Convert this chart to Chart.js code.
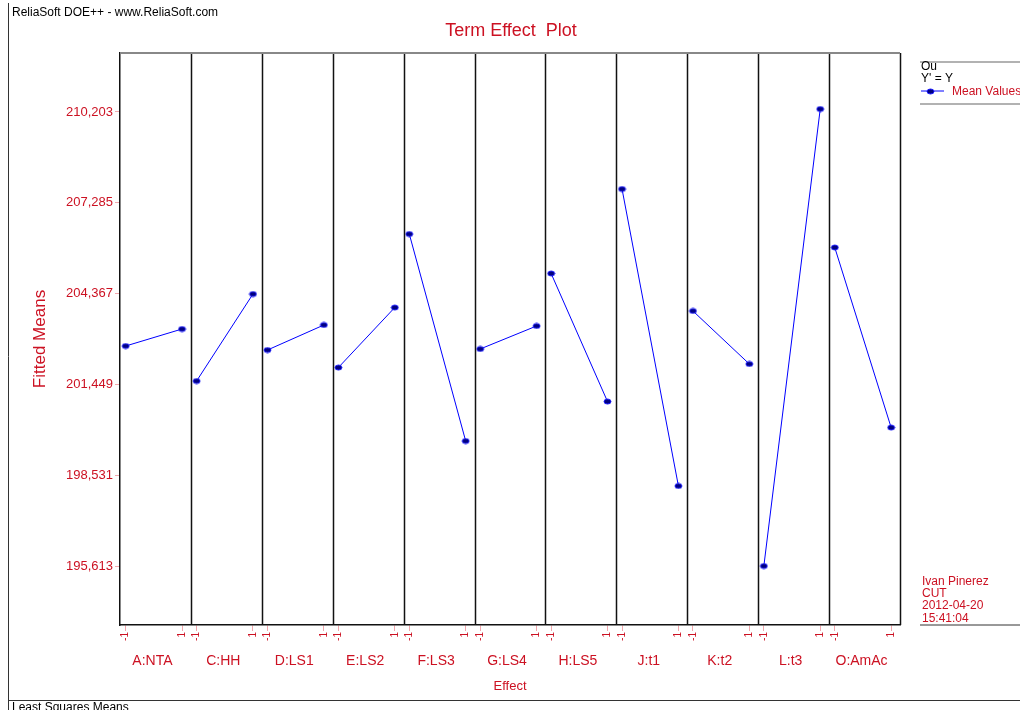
<!DOCTYPE html>
<html>
<head>
<meta charset="utf-8">
<title>Term Effect Plot</title>
<script src="https://cdn.jsdelivr.net/npm/chart.js@4.4.1/dist/chart.umd.min.js"></script>
<style>
  html, body { margin: 0; padding: 0; background: #ffffff; }
  #wrap { position: relative; width: 1020px; height: 710px; overflow: hidden; }
  canvas { display: block; }
</style>
</head>
<body>
<div id="wrap"><canvas id="chart" width="1020" height="710"></canvas></div>
<script>
// Effect terms shown left to right, one panel each
const categories = ['A:NTA', 'C:HH', 'D:LS1', 'E:LS2', 'F:LS3', 'G:LS4', 'H:LS5', 'J:t1', 'K:t2', 'L:t3', 'O:AmAc'];
// Factor levels inside each panel
const levelLabels = ['-1', '1'];
// Least squares means at level -1
const lowMeans = [202.683, 201.558, 202.554, 201.992, 206.282, 202.587, 205.013, 207.728, 203.808, 195.613, 205.849];
// Least squares means at level 1
const highMeans = [203.229, 204.354, 203.358, 203.920, 199.630, 203.326, 200.899, 198.184, 202.105, 210.299, 200.063];
// Value axis ticks and range
const yTickValues = [195.613, 198.531, 201.449, 204.367, 207.285, 210.203];
const yMin = 193.717;
const yMax = 212.099;

// Where each level sits within its panel (panel i spans [i, i+1])
const LOW_POS = 0.08;
const HIGH_POS = 0.875;

const RED = '#cc1122';
const PINK = '#f2a8ae';
const FONT = "'Liberation Sans', Arial, sans-serif";

Chart.defaults.font.family = FONT;

// Small navy ellipse used as the marker
function makeMarker(w, h) {
  const c = document.createElement('canvas');
  c.width = w + 2; c.height = h + 2;
  const g = c.getContext('2d');
  g.beginPath();
  g.ellipse((w + 2) / 2, (h + 2) / 2, w / 2, h / 2, 0, 0, Math.PI * 2);
  g.fillStyle = '#000080';
  g.fill();
  g.lineWidth = 1;
  g.strokeStyle = '#1a1aff';
  g.stroke();
  return c;
}
const marker = makeMarker(7, 5);

const tickPositions = [];
categories.forEach((_, i) => { tickPositions.push(i + LOW_POS, i + HIGH_POS); });

const datasets = categories.map((name, i) => ({
  label: name,
  data: [
    { x: i + LOW_POS, y: lowMeans[i] },
    { x: i + HIGH_POS, y: highMeans[i] }
  ],
  showLine: true,
  borderColor: '#0000ff',
  borderWidth: 1,
  pointStyle: marker,
  pointRadius: 4,
  pointHoverRadius: 4
}));

function text(ctx, str, x, y, opts) {
  ctx.save();
  ctx.font = (opts.size || 12) + 'px ' + FONT;
  ctx.fillStyle = opts.color || '#000';
  ctx.textAlign = opts.align || 'left';
  ctx.textBaseline = opts.baseline || 'middle';
  if (opts.rotate) {
    ctx.translate(x, y);
    ctx.rotate(opts.rotate);
    ctx.fillText(str, 0, 0);
  } else {
    ctx.fillText(str, x, y);
  }
  ctx.restore();
}

function line(ctx, x1, y1, x2, y2, color, width) {
  ctx.save();
  ctx.beginPath();
  ctx.moveTo(x1, y1);
  ctx.lineTo(x2, y2);
  ctx.strokeStyle = color;
  ctx.lineWidth = width;
  ctx.stroke();
  ctx.restore();
}

const decorations = {
  id: 'decorations',
  beforeDraw(chart) {
    const ctx = chart.ctx;
    ctx.save();
    ctx.fillStyle = '#ffffff';
    ctx.fillRect(0, 0, chart.width, chart.height);
    ctx.restore();
  },
  afterDraw(chart) {
    const ctx = chart.ctx;
    const area = chart.chartArea;
    const xs = chart.scales.x;

    // Panel separators and right border
    for (let i = 1; i <= categories.length; i++) {
      const px = Math.round(xs.getPixelForValue(i)) + 0.5;
      line(ctx, px, area.top, px, area.bottom, '#111', 1.5);
    }
    // Top border of the plot
    line(ctx, area.left, area.top, area.right, area.top, '#888', 2);

    // Term names under each panel
    categories.forEach((name, i) => {
      const cx = xs.getPixelForValue(i + 0.5);
      text(ctx, name, cx - 3, 661, { size: 14, color: RED, align: 'center' });
    });

    // Axis titles
    text(ctx, 'Effect', (area.left + area.right) / 2, 686, { size: 13, color: RED, align: 'center' });
    text(ctx, 'Fitted Means', 40, (area.top + area.bottom) / 2, { size: 17, color: RED, align: 'center', rotate: -Math.PI / 2 });

    // Chart title
    text(ctx, 'Term Effect  Plot', 511, 31, { size: 18, color: RED, align: 'center' });

    // Outer frame and header/footer
    line(ctx, 8.5, 3, 8.5, 710, '#333', 1);
    line(ctx, 8, 700.5, 1020, 700.5, '#333', 1);
    text(ctx, 'ReliaSoft DOE++ - www.ReliaSoft.com', 12, 13, { size: 12, color: '#000' });
    text(ctx, 'Least Squares Means', 12, 708, { size: 12, color: '#000' });

    // Legend block
    line(ctx, 920, 62, 1020, 62, '#999', 1.5);
    text(ctx, 'Ou', 921, 67, { size: 12, color: '#000' });
    text(ctx, "Y' = Y", 921, 79, { size: 12, color: '#000' });
    line(ctx, 921, 91, 944, 91, '#0000ff', 1);
    ctx.drawImage(marker, 926, 88);
    text(ctx, 'Mean Values', 952, 92, { size: 12, color: RED });
    line(ctx, 920, 104, 1020, 104, '#999', 1.5);

    // Author block
    text(ctx, 'Ivan Pinerez', 922, 582, { size: 12, color: RED });
    text(ctx, 'CUT', 922, 594, { size: 12, color: RED });
    text(ctx, '2012-04-20', 922, 606, { size: 12, color: RED });
    text(ctx, '15:41:04', 922, 619, { size: 12, color: RED });
    line(ctx, 920, 625, 1020, 625, '#333', 1);
  }
};

new Chart(document.getElementById('chart'), {
  type: 'scatter',
  data: { datasets },
  options: {
    responsive: false,
    animation: false,
    devicePixelRatio: 1,
    layout: { padding: { left: 0, top: 53, right: 120, bottom: 63 } },
    plugins: {
      legend: { display: false },
      title: { display: false },
      tooltip: { enabled: false }
    },
    scales: {
      x: {
        type: 'linear',
        min: 0,
        max: categories.length,
        afterBuildTicks(scale) {
          scale.ticks = tickPositions.map(v => ({ value: v }));
        },
        afterFit(scale) { scale.height = 22; },
        ticks: {
          autoSkip: false,
          minRotation: 90,
          maxRotation: 90,
          color: RED,
          font: { size: 10 },
          padding: 1,
          callback: (value, index) => levelLabels[index % 2]
        },
        grid: { drawOnChartArea: false, tickLength: 6, tickColor: PINK },
        border: { color: '#111', width: 1.5 }
      },
      y: {
        type: 'linear',
        min: yMin,
        max: yMax,
        afterBuildTicks(scale) {
          scale.ticks = yTickValues.map(v => ({ value: v }));
        },
        afterFit(scale) { scale.width = 120; },
        ticks: {
          color: RED,
          font: { size: 13 },
          padding: 2,
          callback: v => v.toFixed(3).replace('.', ',')
        },
        grid: { drawOnChartArea: false, tickLength: 5, tickColor: PINK },
        border: { color: '#111', width: 1.5 }
      }
    }
  },
  plugins: [decorations]
});
</script>
</body>
</html>
